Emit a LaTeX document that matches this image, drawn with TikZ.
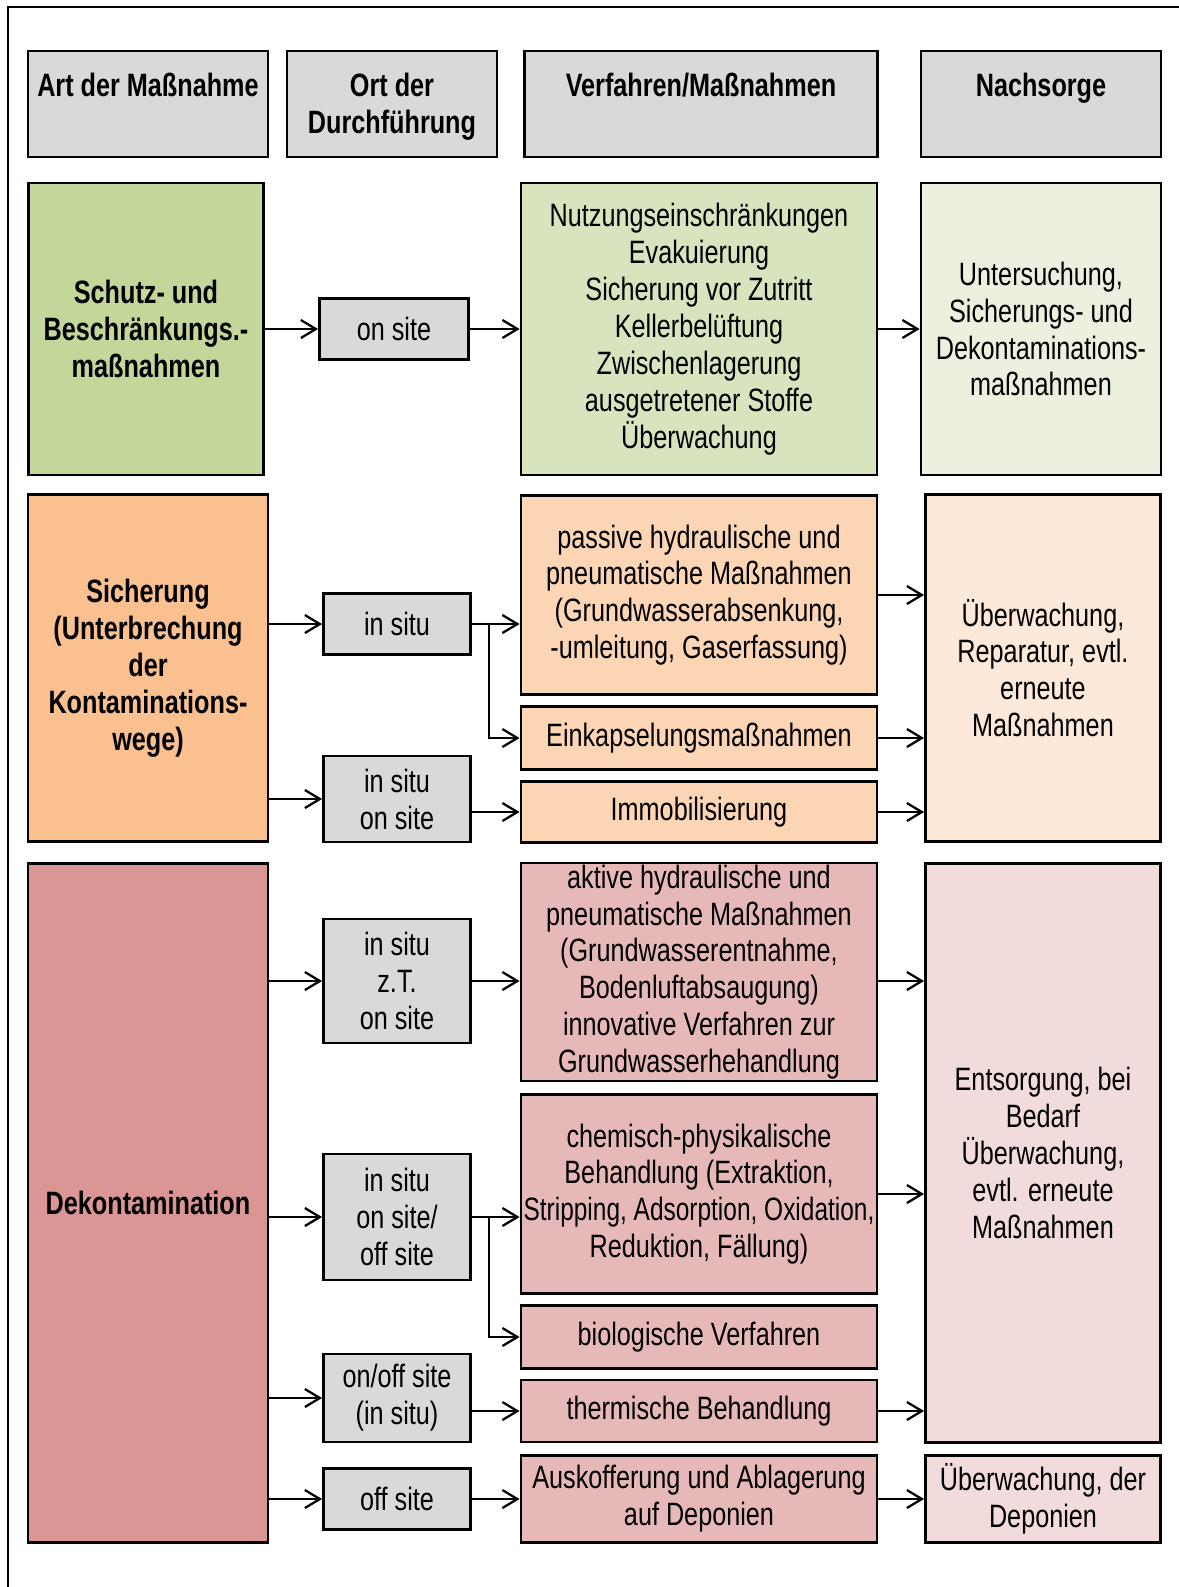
\documentclass[tikz,border=0pt]{standalone}
\usepackage{fontspec}
\usepackage{graphicx}
\setmainfont{Liberation Sans}[FakeStretch=0.78]
\usetikzlibrary{arrows.meta}

\definecolor{hdrgray}{HTML}{D9D9D9}
\definecolor{grnA}{HTML}{C4D79B}
\definecolor{grnB}{HTML}{D7E4BD}
\definecolor{grnC}{HTML}{EBF1DE}
\definecolor{orA}{HTML}{FAC090}
\definecolor{orB}{HTML}{FCD5B5}
\definecolor{orC}{HTML}{FDE9D9}
\definecolor{redA}{HTML}{D99694}
\definecolor{redB}{HTML}{E6B9B8}
\definecolor{redC}{HTML}{F2DCDB}

\begin{document}
\begin{tikzpicture}[
        font=\fontsize{9.2}{10.5}\selectfont,
        sz/.style 2 args={minimum width=#1cm, minimum height=#2cm},
        box/.style={draw, line width=0.8pt, align=center, inner sep=0pt},
        hdr/.style={box, fill=hdrgray, font=\fontsize{9.2}{10.5}\selectfont\bfseries, text height=3mm, text depth=4.5mm},
        hdrtwo/.style={hdr, text height=6.7mm, text depth=0.8mm},
        cat/.style={box, font=\fontsize{9.2}{10.5}\selectfont\bfseries},
        loc/.style={box, fill=hdrgray},
        arr/.style={-{Straight Barb[length=1.5mm, width=1.8mm]}, line width=0.65pt}
    ]
        \useasboundingbox (0,0) rectangle (11.79,-15.87);
        \draw[line width=0.6pt] (0.08,-15.87) -- (0.08,-0.07) -- (11.79,-0.07);

        % Kopfzeile
        \node[hdr, sz={2.40}{1.06}] (hArt) at (1.48,-1.04) {Art der Maßnahme};
        \node[hdrtwo, sz={2.10}{1.06}] (hOrt) at (3.92,-1.04) {Ort der\\Durchführung};
        \node[hdr, sz={3.53}{1.06}] (hVerf) at (7.01,-1.04) {Verfahren/Maßnahmen};
        \node[hdr, sz={2.40}{1.06}] (hNach) at (10.41,-1.04) {Nachsorge};

        % Schutz- und Beschraenkungsmassnahmen
        \node[cat, fill=grnA, sz={2.35}{2.92}] (schutz) at (1.46,-3.29) {Schutz- und\\Beschränkungs.-\\maßnahmen};
        \node[loc, sz={1.49}{0.61}] (onsite) at (3.94,-3.29) {on site};
        \node[box, fill=grnB, sz={3.56}{2.92}] (gVerf) at (6.99,-3.29) {Nutzungseinschränkungen\\Evakuierung\\Sicherung vor Zutritt\\Kellerbelüftung\\Zwischenlagerung\\ausgetretener Stoffe\\Überwachung};
        \node[box, fill=grnC, sz={2.40}{2.92}] (gNach) at (10.41,-3.29) {Untersuchung,\\Sicherungs- und\\Dekontaminations-\\maßnahmen};

        \draw[arr] (schutz.east) -- (onsite.west);
        \draw[arr] (onsite.east) -- (gVerf.west);
        \draw[arr] (gVerf.east) -- (gNach.west);

        % Sicherung
        \node[cat, fill=orA, sz={2.40}{3.47}] (sich) at (1.48,-6.68) {Sicherung\\(Unterbrechung\\der\\Kontaminations-\\wege)};
        \node[loc, sz={1.47}{0.61}] (sIn) at (3.97,-6.24) {in situ};
        \node[loc, sz={1.47}{0.86}] (sInOn) at (3.97,-7.99) {in situ\\on site};
        \node[box, fill=orB, sz={3.56}{1.99}] (passiv) at (6.99,-5.95) {passive hydraulische und\\pneumatische Maßnahmen\\(Grundwasserabsenkung,\\-umleitung, Gaserfassung)};
        \node[box, fill=orB, sz={3.56}{0.63}] (einkaps) at (6.99,-7.38) {Einkapselungsmaßnahmen};
        \node[box, fill=orB, sz={3.56}{0.61}] (immob) at (6.99,-8.12) {Immobilisierung};
        \node[box, fill=orC, sz={2.35}{3.47}] (oNach) at (10.43,-6.68) {Überwachung,\\Reparatur, evtl.\\erneute\\Maßnahmen};

        \draw[arr] (sich.east |- sIn.west) -- (sIn.west);
        \draw[arr] (sIn.east) -- (sIn.east -| passiv.west);
        \draw[arr] ([xshift=0.17cm]sIn.east) |- (einkaps.west);
        \draw[arr] (sich.east |- sInOn.west) -- (sInOn.west);
        \draw[arr] (sInOn.east |- immob.west) -- (immob.west);
        \draw[arr] (passiv.east) -- (passiv.east -| oNach.west);
        \draw[arr] (einkaps.east) -- (einkaps.east -| oNach.west);
        \draw[arr] (immob.east) -- (immob.east -| oNach.west);

        % Dekontamination
        \node[cat, fill=redA, sz={2.40}{6.79}] (dekon) at (1.48,-12.03) {Dekontamination};
        \node[loc, sz={1.47}{1.24}] (dIn) at (3.97,-9.81) {in situ\\z.T.\\on site};
        \node[loc, sz={1.47}{1.26}] (dInOff) at (3.97,-12.17) {in situ\\on site/\\off site};
        \node[loc, sz={1.47}{0.88}] (dOnOff) at (3.97,-13.98) {on/off site\\(in situ)};
        \node[loc, sz={1.47}{0.61}] (dOff) at (3.97,-14.99) {off site};
        \node[box, fill=redB, sz={3.56}{2.18}] (aktiv) at (6.99,-9.72) {aktive hydraulische und\\pneumatische Maßnahmen\\(Grundwasserentnahme,\\Bodenluftabsaugung)\\innovative Verfahren zur\\Grundwasserhehandlung};
        \node[box, fill=redB, sz={3.56}{1.99}] (chem) at (6.99,-11.94) {chemisch-physikalische\\Behandlung (Extraktion,\\\scalebox{0.97}[1]{Stripping, Adsorption, Oxidation,}\\Reduktion, Fällung)};
        \node[box, fill=redB, sz={3.56}{0.63}] (bio) at (6.99,-13.37) {biologische Verfahren};
        \node[box, fill=redB, sz={3.56}{0.62}] (therm) at (6.99,-14.11) {thermische Behandlung};
        \node[box, fill=redB, sz={3.56}{0.87}] (auskof) at (6.99,-14.99) {Auskofferung und Ablagerung\\auf Deponien};
        \node[box, fill=redC, sz={2.35}{5.79}] (rNach) at (10.43,-11.53) {Entsorgung, bei\\Bedarf\\Überwachung,\\evtl. erneute\\Maßnahmen};
        \node[box, fill=redC, sz={2.35}{0.87}] (depon) at (10.43,-14.99) {Überwachung, der\\Deponien};

        \draw[arr] (dekon.east |- dIn.west) -- (dIn.west);
        \draw[arr] (dIn.east) -- (dIn.east -| aktiv.west);
        \draw[arr] (aktiv.east |- dIn.east) -- (dIn.east -| rNach.west);
        \draw[arr] (dekon.east |- dInOff.west) -- (dInOff.west);
        \draw[arr] (dInOff.east) -- (dInOff.east -| chem.west);
        \draw[arr] ([xshift=0.17cm]dInOff.east) |- (bio.west);
        \draw[arr] (chem.east) -- (chem.east -| rNach.west);
        \draw[arr] (dekon.east |- dOnOff.west) -- (dOnOff.west);
        \draw[arr] (dOnOff.east |- therm.west) -- (therm.west);
        \draw[arr] (therm.east) -- (therm.east -| rNach.west);
        \draw[arr] (dekon.east |- dOff.west) -- (dOff.west);
        \draw[arr] (dOff.east) -- (auskof.west);
        \draw[arr] (auskof.east) -- (depon.west);

    \end{tikzpicture}
\end{document}
